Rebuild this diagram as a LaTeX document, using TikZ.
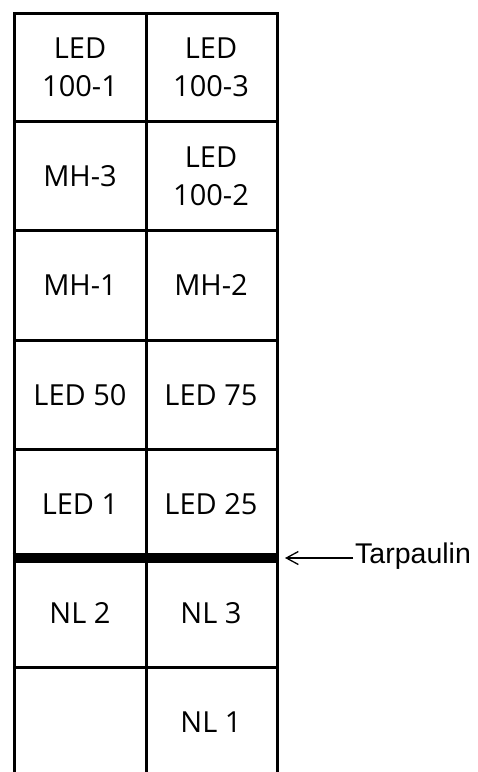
\documentclass[tikz,border=0pt]{standalone}
\usepackage{fontspec}
\usetikzlibrary{arrows.meta}
\setmainfont{Open Sans}
\newfontfamily\arialfont{Liberation Sans}
\begin{document}
\begin{tikzpicture}[x=1pt,y=-1pt,
  grid/.style={line width=3pt},
  tarp/.style={line width=10pt},
  cell/.style={font=\fontsize{29}{38}\selectfont, align=center, inner sep=0pt},
  lbl/.style={font=\arialfont\fontsize{28.5}{32}\selectfont, inner sep=0pt, anchor=base west}]
\useasboundingbox (0,0) rectangle (478,772);
% grid lines
\draw[grid] (14,780) -- (14,13) -- (277,13) -- (277,780);
\draw[grid] (146,13) -- (146,780);
\foreach \y in {121,230,340,449,667} \draw[grid] (14,\y) -- (277,\y);
\draw[tarp] (12.5,558) -- (278.5,558);
\coordinate (tarpend) at (285,558);
% cells
\node[cell] (c11) at (80,67) {LED\\100-1};
\node[cell] (c12) at (211,67) {LED\\100-3};
\node[cell] (c21) at (80,176) {MH-3};
\node[cell] (c22) at (211,176) {LED\\100-2};
\node[cell] (c31) at (80,285) {MH-1};
\node[cell] (c32) at (211,285) {MH-2};
\node[cell] (c41) at (80,395) {LED 50};
\node[cell] (c42) at (211,395) {LED 75};
\node[cell] (c51) at (80,504) {LED 1};
\node[cell] (c52) at (211,504) {LED 25};
\node[cell] (c61) at (80,613) {NL 2};
\node[cell] (c62) at (211,613) {NL 3};
\node[cell] (c72) at (211,722) {NL 1};
% label
\node[lbl] (tarpl) at (355,563.5) {Tarpaulin};
\coordinate (tarpstart) at (353,558);
\draw[-{Straight Barb[length=12pt,width=13pt]}, line width=1.3pt] (tarpstart) -- (tarpend);
\end{tikzpicture}
\end{document}
